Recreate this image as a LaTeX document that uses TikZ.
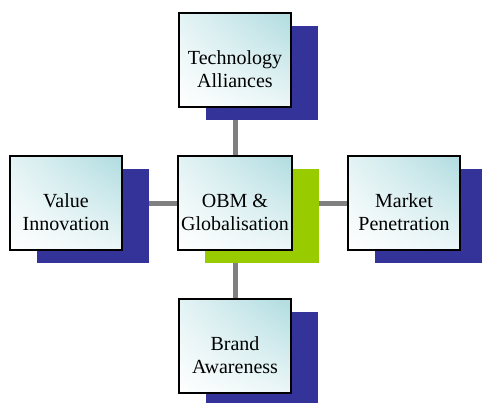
\documentclass[tikz,border=0pt]{standalone}
\usepackage{fontspec}
\setmainfont{Liberation Serif}
\newfontfamily\boxFont{Liberation Serif}
\usetikzlibrary{shadows,shadings,backgrounds}
\definecolor{shadowBlue}{RGB}{51,51,153}
\definecolor{shadowGreen}{RGB}{153,204,0}
\definecolor{boxTeal}{RGB}{176,220,224}
\definecolor{linkGray}{RGB}{128,128,128}
\tikzstyle{diagram} = [x = 1pt, y = -1pt]
\tikzstyle{conceptBox} = [draw=black, line width=1.6pt, minimum width=112pt, minimum height=94pt,
  align=center, font=\boxFont\fontsize{20}{23}\selectfont,
  execute at begin node={\rule[-6pt]{0pt}{66pt}},
  lower left=white, upper right=boxTeal, upper left=boxTeal!35!white, lower right=boxTeal!25!white]
\tikzstyle{blueShadow} = [drop shadow={shadow xshift=27pt, shadow yshift=-13pt, fill=shadowBlue, opacity=1}]
\tikzstyle{greenShadow} = [drop shadow={shadow xshift=27pt, shadow yshift=-13pt, fill=shadowGreen, opacity=1}]
\tikzstyle{linkLine} = [draw=linkGray, line width=5pt]

\begin{document}
\begin{tikzpicture}[diagram]
  \useasboundingbox (0,0) rectangle (482,402);
  % boxes
  \node [conceptBox, greenShadow] (obm) at (235,203) {OBM \&\\Globalisation};
  \node [conceptBox, blueShadow] (tech) at (235,60) {Technology\\Alliances};
  \node [conceptBox, blueShadow] (value) at (66,203) {Value\\Innovation};
  \node [conceptBox, blueShadow] (market) at (404,203) {Market\\Penetration};
  \node [conceptBox, blueShadow] (brand) at (235,346) {Brand\\Awareness};
  % links
  \begin{scope}[on background layer]
    \draw [linkLine] (obm) -- (tech);
    \draw [linkLine] (obm) -- (value);
    \draw [linkLine] (obm) -- (market);
    \draw [linkLine] (obm) -- (brand);
  \end{scope}
\end{tikzpicture}
\end{document}
